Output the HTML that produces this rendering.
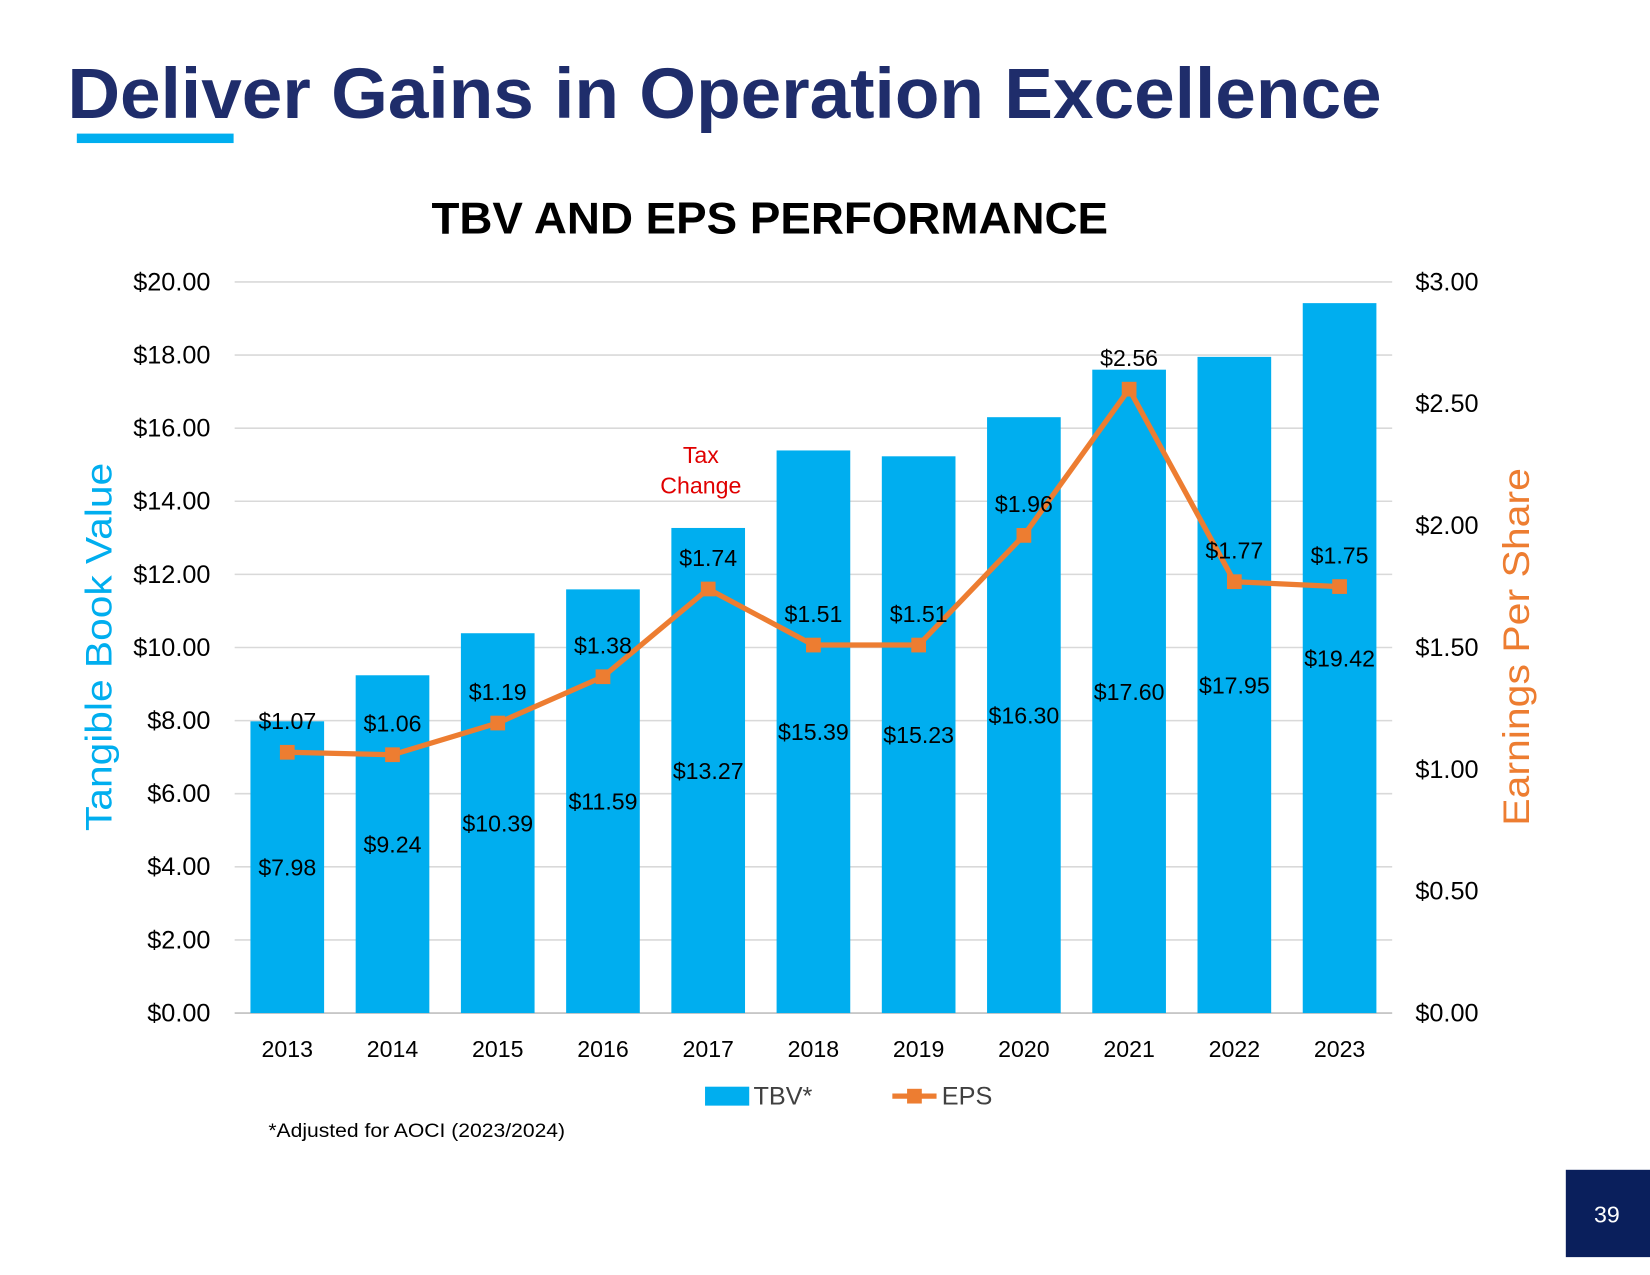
<!DOCTYPE html>
<html><head><meta charset="utf-8"><style>
html,body{margin:0;padding:0;background:#fff;}
svg{display:block;font-family:"Liberation Sans",Arial,sans-serif;}
</style></head><body>
<svg id="chart" width="1650" height="1275" viewBox="0 0 1568 1212" preserveAspectRatio="none" xmlns="http://www.w3.org/2000/svg">
<text x="64" y="112" font-size="68" font-weight="bold" fill="#1f2d6b" textLength="1249" lengthAdjust="spacingAndGlyphs">Deliver Gains in Operation Excellence</text>
<rect x="73" y="127" width="149" height="9" fill="#00aeef"/>
<text x="410" y="222" font-size="42" font-weight="bold" fill="#000" textLength="643" lengthAdjust="spacingAndGlyphs">TBV AND EPS PERFORMANCE</text>
<g id="grid"></g><g id="bars"></g><g id="line"></g><g id="labels"></g>
<text transform="translate(106,615) rotate(-90)" font-size="35" fill="#00aeef" text-anchor="middle" textLength="350" lengthAdjust="spacingAndGlyphs">Tangible Book Value</text>
<text transform="translate(1453,615) rotate(-90)" font-size="35" fill="#ed7d31" text-anchor="middle" textLength="340" lengthAdjust="spacingAndGlyphs">Earnings Per Share</text>
<text x="666" y="440" font-size="22" fill="#e00000" text-anchor="middle">Tax</text>
<text x="666" y="469" font-size="22" fill="#e00000" text-anchor="middle">Change</text>
<g>
<rect x="670" y="1033" width="42" height="18" fill="#00aeef"/>
<text x="716" y="1050" font-size="24" fill="#404040">TBV*</text>
<line x1="848" y1="1042" x2="890" y2="1042" stroke="#ed7d31" stroke-width="5"/>
<rect x="862" y="1035" width="14" height="14" fill="#ed7d31"/>
<text x="895" y="1050" font-size="24" fill="#404040">EPS</text>
</g>
<text x="255" y="1081" font-size="18" fill="#000" textLength="282" lengthAdjust="spacingAndGlyphs">*Adjusted for AOCI (2023/2024)</text>
<rect x="1488" y="1112" width="80" height="83" fill="#0a1f5c"/>
<text x="1527" y="1162" font-size="22" fill="#fff" text-anchor="middle">39</text>
</svg>
<script>
const years=["2013","2014","2015","2016","2017","2018","2019","2020","2021","2022","2023"];
const tbv=[7.98,9.24,10.39,11.59,13.27,15.39,15.23,16.30,17.60,17.95,19.42];
const eps=[1.07,1.06,1.19,1.38,1.74,1.51,1.51,1.96,2.56,1.77,1.75];
const leftTicks=[0,2,4,6,8,10,12,14,16,18,20];
const rightTicks=[0,0.5,1,1.5,2,2.5,3];
const NS="http://www.w3.org/2000/svg";
const y0=963,yTop=268;
const yL=v=>y0-(v/20)*(y0-yTop);
const yR=v=>y0-(v/3)*(y0-yTop);
const xC=i=>273+i*100;
function mk(tag,attrs,parent,txt){const e=document.createElementNS(NS,tag);for(const k in attrs)e.setAttribute(k,attrs[k]);if(txt!==undefined)e.textContent=txt;document.getElementById(parent).appendChild(e);return e;}
leftTicks.forEach(t=>{
 const l=mk('line',{x1:223,x2:1323,y1:yL(t),y2:yL(t),stroke:t===0?'#bfbfbf':'#d9d9d9','stroke-width':1.5},'grid');
 
 
 const tx=mk('text',{x:200,y:yL(t)+8,'font-size':24,'text-anchor':'end',fill:'#000'},'grid','$'+t.toFixed(2));
 
 
});
rightTicks.forEach(t=>{
 const tx=mk('text',{x:1345,y:yR(t)+8,'font-size':24,fill:'#000'},'grid','$'+t.toFixed(2));
 
 
});
years.forEach((yr,i)=>{
 const b=mk('rect',{x:xC(i)-35,y:yL(tbv[i]),width:70,height:y0-yL(tbv[i]),fill:'#00aeef'},'bars');
 
 
 const xl=mk('text',{x:xC(i),y:1005,'font-size':22,'text-anchor':'middle',fill:'#000'},'labels',yr);
 
 
 const bl=mk('text',{x:xC(i),y:(yL(tbv[i])+y0)/2+8,'font-size':22,'text-anchor':'middle',fill:'#000'},'labels','$'+tbv[i].toFixed(2));
 
 
 const el=mk('text',{x:xC(i),y:yR(eps[i])-22,'font-size':22,'text-anchor':'middle',fill:'#000'},'labels','$'+eps[i].toFixed(2));
 
 
});
const pl=mk('polyline',{points:eps.map((v,i)=>xC(i)+','+yR(v)).join(' '),fill:'none',stroke:'#ed7d31','stroke-width':5,'stroke-linejoin':'round'},'line');


eps.forEach((v,i)=>{
 const m=mk('rect',{x:xC(i)-7,y:yR(v)-7,width:14,height:14,fill:'#ed7d31'},'line');
 
 
});
</script>
</body></html>
